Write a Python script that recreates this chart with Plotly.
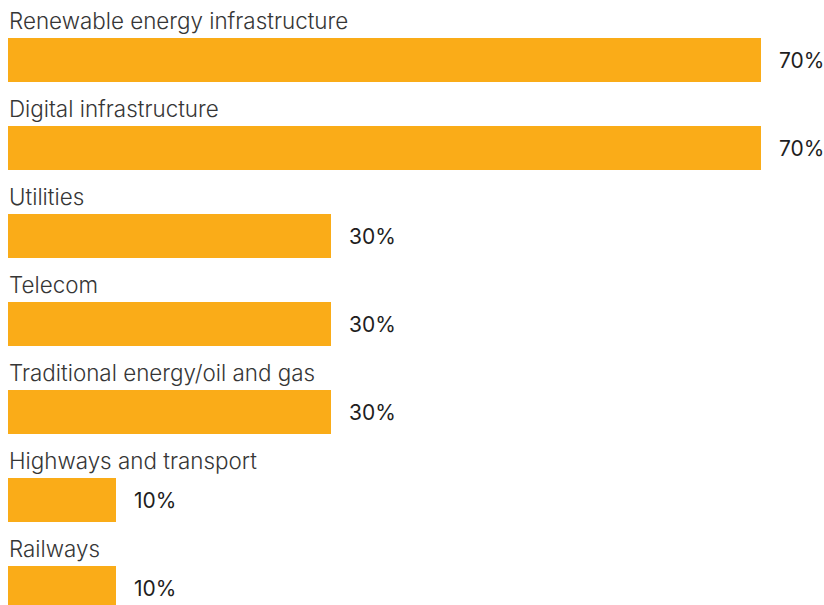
import plotly.graph_objects as go

categories = [
    "Renewable energy infrastructure",
    "Digital infrastructure",
    "Utilities",
    "Telecom",
    "Traditional energy/oil and gas",
    "Highways and transport",
    "Railways",
]
values = [70, 70, 30, 30, 30, 10, 10]

BAR_COLOR = "#FAAC18"
LABEL_COLOR = "#363636"
VALUE_COLOR = "#1E1E1E"
FONT = "Inter, Roboto, sans-serif"

rows = list(range(len(categories)))

fig = go.Figure(
    go.Bar(
        x=values,
        y=rows,
        orientation="h",
        width=0.51,
        marker=dict(color=BAR_COLOR, line=dict(width=0)),
        hoverinfo="skip",
    )
)

annotations = []
for i, (cat, val) in enumerate(zip(categories, values)):
    # category name sits above its bar
    annotations.append(dict(
        x=0, y=i, xref="x", yref="y", text=cat, showarrow=False,
        xanchor="left", yanchor="middle", xshift=-1, yshift=40,
        font=dict(family=FONT, size=22.4, color=LABEL_COLOR, weight=300),
    ))
    # value to the right of the bar end
    annotations.append(dict(
        x=val, y=i, xref="x", yref="y", text=f"{val}%", showarrow=False,
        xanchor="left", yanchor="middle", xshift=16, yshift=0,
        font=dict(family=FONT, size=21, color=VALUE_COLOR, weight=400),
    ))

fig.update_layout(
    width=824, height=605,
    margin=dict(l=8, r=0, t=0, b=0),
    paper_bgcolor="white", plot_bgcolor="white",
    showlegend=False,
    bargap=0,
    annotations=annotations,
    xaxis=dict(range=[0, 75.86], visible=False, fixedrange=True),
    yaxis=dict(range=[6.193, -0.682], visible=False, fixedrange=True),
)

fig.write_html("out.html")
